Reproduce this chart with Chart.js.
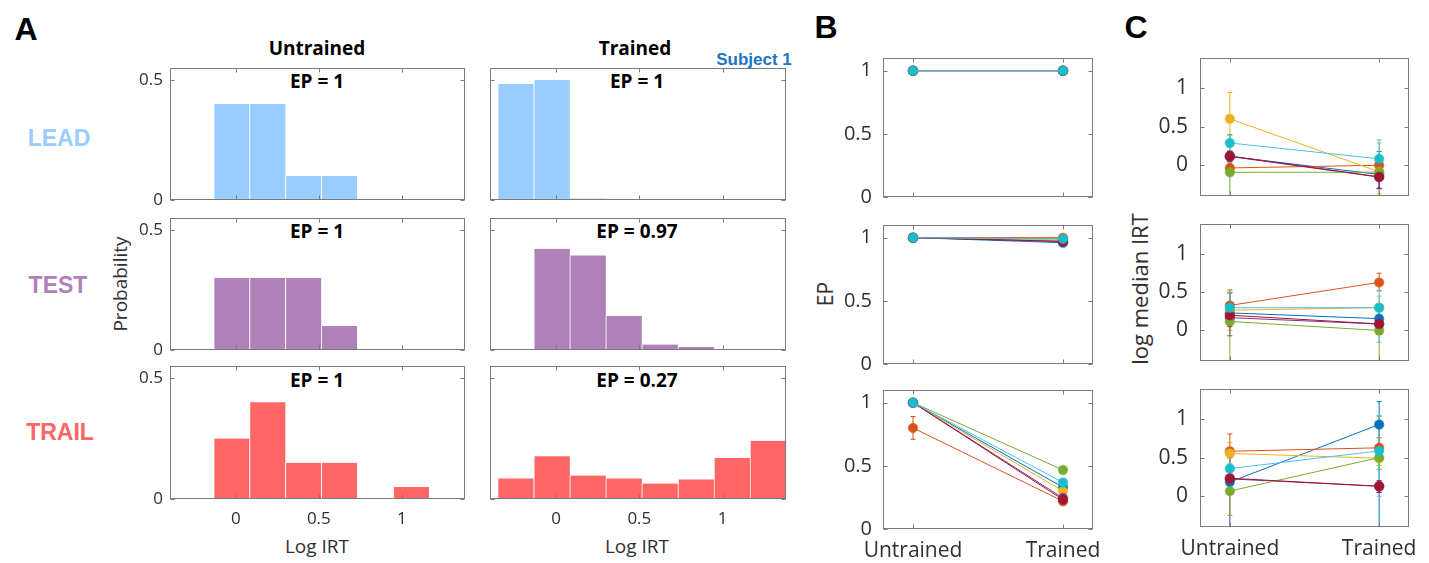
<!DOCTYPE html>
<html lang="en">
<head>
<meta charset="UTF-8" />
<title>Log IRT histograms, EP and median IRT</title>
<style>
  body { margin: 0; background: #fff; width: 1429px; height: 563px; position: relative; overflow: hidden; font-family: "Open Sans", sans-serif; }
  canvas { position: absolute; }
  .txt { position: absolute; white-space: nowrap; line-height: 1; transform: translate(-50%, -50%); }
  .letter { font-family: "Liberation Sans", Arial, sans-serif; font-weight: bold; font-size: 32px; color: #000; }
  .row { font-family: "Liberation Sans", Arial, sans-serif; font-weight: bold; font-size: 23px; }
  .bold { font-weight: bold; font-size: 19px; color: #000; }
  .axt { font-size: 19px; color: #303030; }
  .rot { transform: translate(-50%, -50%) rotate(-90deg); }
</style>
<script src="https://cdn.jsdelivr.net/npm/chart.js"></script>
</head>
<body>
  <div class="txt letter" style="left:26px;top:29px">A</div>
  <div class="txt letter" style="left:826px;top:27px">B</div>
  <div class="txt letter" style="left:1136px;top:27px">C</div>

  <div class="txt bold" style="left:317px;top:48px">Untrained</div>
  <div class="txt bold" style="left:635px;top:48px">Trained</div>
  <div class="txt" style="left:754px;top:59px;font-family:'Liberation Sans',Arial,sans-serif;font-weight:bold;font-size:17px;color:#1A75C2">Subject 1</div>

  <div class="txt row" style="left:59px;top:138px;color:#99CCFF">LEAD</div>
  <div class="txt row" style="left:58px;top:285px;color:#B080B9">TEST</div>
  <div class="txt row" style="left:60px;top:432px;color:#FF6666">TRAIL</div>

  <div class="txt bold" id="ep00" style="left:317px;top:81px"></div>
  <div class="txt bold" id="ep01" style="left:637px;top:81px"></div>
  <div class="txt bold" id="ep10" style="left:317px;top:231px"></div>
  <div class="txt bold" id="ep11" style="left:637px;top:231px"></div>
  <div class="txt bold" id="ep20" style="left:317px;top:380px"></div>
  <div class="txt bold" id="ep21" style="left:637px;top:380px"></div>

  <div class="txt axt rot" style="left:120px;top:284px">Probability</div>
  <div class="txt axt" style="left:317px;top:546px">Log IRT</div>
  <div class="txt axt" style="left:637px;top:546px">Log IRT</div>
  <div class="txt axt rot" style="left:825px;top:294px;font-size:21px">EP</div>
  <div class="txt axt rot" style="left:1139px;top:289px;font-size:22px">log median IRT</div>

  <canvas id="a00"></canvas><canvas id="a01"></canvas>
  <canvas id="a10"></canvas><canvas id="a11"></canvas>
  <canvas id="a20"></canvas><canvas id="a21"></canvas>
  <canvas id="b0"></canvas><canvas id="b1"></canvas><canvas id="b2"></canvas>
  <canvas id="c0"></canvas><canvas id="c1"></canvas><canvas id="c2"></canvas>

  <script>
    // ---- panel A: histogram bins (centres of the 8 log IRT bins) ----
    const binCenters = [-0.242, -0.025, 0.191, 0.407, 0.623, 0.840, 1.056, 1.272];
    const leadUntrained  = [0, 0.40, 0.40, 0.10, 0.10, 0, 0, 0];
    const leadTrained    = [0.483, 0.50, 0.006, 0, 0, 0, 0, 0];
    const testUntrained  = [0, 0.30, 0.30, 0.30, 0.10, 0, 0, 0];
    const testTrained    = [0, 0.422, 0.394, 0.142, 0.023, 0.012, 0, 0];
    const trailUntrained = [0, 0.25, 0.40, 0.15, 0.15, 0, 0.05, 0];
    const trailTrained   = [0.085, 0.177, 0.097, 0.085, 0.064, 0.081, 0.170, 0.241];
    const epLabels = [['EP = 1', 'EP = 1'], ['EP = 1', 'EP = 0.97'], ['EP = 1', 'EP = 0.27']];
    const rowColors = ['#99CCFF', '#B080B9', '#FF6666'];
    const histXTicks = [0, 0.5, 1];
    const histYTicks = [0, 0.5];

    // ---- panels B and C: 7 subjects, untrained (x=1) vs trained (x=2) ----
    const conditions = ['Untrained', 'Trained'];
    const lineColors   = ['#0072BD', '#D95319', '#EDB120', '#7E2F8E', '#77AC30', '#4DBEEE', '#A2142F'];
    const markerColors = ['#0072BD', '#D95319', '#EDB120', '#7E2F8E', '#77AC30', '#17BECF', '#A2142F'];
    const lineYTicks = [0, 0.5, 1];

    const epLeadU  = [1, 1, 1, 1, 1, 1, 1];
    const epLeadT  = [1, 1, 1, 1, 1, 1, 1];
    const epTestU  = [1, 1, 1, 1, 1, 1, 1];
    const epTestT  = [0.96, 1.0, 0.98, 0.97, 0.99, 0.99, 0.97];
    const epTrailU = [1, 0.80, 1, 1, 1, 1, 1];
    const epTrailT = [0.33, 0.22, 0.30, 0.245, 0.467, 0.368, 0.232];
    const epTrailUErr = [null, [0.71, 0.89], null, null, null, null, null];

    const irtLeadU  = [0.115, -0.035, 0.604, 0.115, -0.092, 0.29, 0.12];
    const irtLeadT  = [-0.12, 0.0, -0.085, -0.155, -0.09, 0.083, -0.15];
    const irtLeadUErr = [[0.05, 0.18], [-0.10, 0.03], [0.26, 0.946], [0.05, 0.18], [-0.60, 0.40], [0.19, 0.39], [0.06, 0.18]];
    const irtLeadTErr = [[-0.42, 0.18], [-0.10, 0.10], [-0.37, 0.29], [-0.30, 0.0], [-0.20, 0.02], [-0.31, 0.33], [-0.30, 0.0]];
    const irtTestU  = [0.23, 0.328, 0.265, 0.168, 0.118, 0.298, 0.20];
    const irtTestT  = [0.155, 0.63, 0.30, 0.084, 0.0, 0.298, 0.085];
    const irtTestUErr = [[0.10, 0.36], [0.15, 0.53], [0.0, 0.53], [-0.07, 0.49], [-0.60, 0.50], [0.10, 0.50], [0.05, 0.35]];
    const irtTestTErr = [[0.0, 0.30], [0.52, 0.75], [0.15, 0.45], [-0.05, 0.20], [-0.60, 0.30], [-0.155, 0.52], [-0.05, 0.20]];
    const irtTrailU = [0.184, 0.585, 0.556, 0.226, 0.067, 0.36, 0.234];
    const irtTrailT = [0.933, 0.63, 0.494, 0.13, 0.502, 0.59, 0.13];
    const irtTrailUErr = [[0.10, 0.28], [0.38, 0.81], [0.42, 0.70], [-0.60, 0.50], [-0.25, 0.40], [0.20, 0.52], [0.15, 0.32]];
    const irtTrailTErr = [[-0.60, 1.23], [0.50, 0.76], [0.40, 0.60], [0.05, 0.20], [0.35, 1.04], [0.0, 1.05], [0.05, 0.20]];

    // plot boxes [left, top, right, bottom] in page pixels
    const colA = [[170, 465], [490, 786]];
    const rowsA = [[68, 200], [218, 350], [366, 499]];
    const boxB = [883, 1093], rowsB = [[55, 197], [222, 364], [387, 529]];
    const boxC = [1200, 1409], rowsC = [[53, 196], [219, 361], [384, 527]];

    const ML = 80, MR = 60, MT = 20, MB = 50;
    const tickColor = '#303030';

    const boxPlugin = {
      id: 'box',
      afterDraw(chart) {
        const { ctx, chartArea: a, scales } = chart;
        const l = Math.round(a.left) + 0.5, t = Math.round(a.top) + 0.5;
        const r = Math.round(a.right) - 0.5, b = Math.round(a.bottom) - 0.5;
        ctx.save();
        ctx.strokeStyle = '#7a7a7a';
        ctx.lineWidth = 1;
        ctx.strokeRect(l, t, r - l, b - t);
        ctx.beginPath();
        scales.x.ticks.forEach(tk => {
          const px = Math.round(scales.x.getPixelForValue(tk.value)) + 0.5;
          ctx.moveTo(px, b); ctx.lineTo(px, b - 4);
          ctx.moveTo(px, t); ctx.lineTo(px, t + 4);
        });
        scales.y.ticks.forEach(tk => {
          const py = Math.round(scales.y.getPixelForValue(tk.value)) + 0.5;
          ctx.moveTo(l, py); ctx.lineTo(l + 4, py);
          ctx.moveTo(r, py); ctx.lineTo(r - 4, py);
        });
        ctx.stroke();
        ctx.restore();
      }
    };

    const errorBarPlugin = {
      id: 'errorBars',
      beforeDatasetsDraw(chart) {
        const { ctx, chartArea: a, scales: { x, y } } = chart;
        ctx.save();
        ctx.beginPath();
        ctx.rect(a.left, a.top, a.right - a.left, a.bottom - a.top);
        ctx.clip();
        chart.data.datasets.forEach(ds => {
          if (!ds.errorBars) return;
          ctx.strokeStyle = ds.borderColor;
          ctx.lineWidth = 1;
          ds.data.forEach((p, i) => {
            const e = ds.errorBars[i];
            if (!e) return;
            const px = x.getPixelForValue(p.x);
            const y0 = y.getPixelForValue(e[0]), y1 = y.getPixelForValue(e[1]);
            ctx.beginPath();
            ctx.moveTo(px, y0); ctx.lineTo(px, y1);
            ctx.moveTo(px - 2.5, y0); ctx.lineTo(px + 2.5, y0);
            ctx.moveTo(px - 2.5, y1); ctx.lineTo(px + 2.5, y1);
            ctx.stroke();
          });
        });
        ctx.restore();
      }
    };

    function place(id, xr, yr) {
      const c = document.getElementById(id);
      c.width = xr[1] - xr[0] + ML + MR;
      c.height = yr[1] - yr[0] + MT + MB;
      c.style.left = (xr[0] - ML) + 'px';
      c.style.top = (yr[0] - MT) + 'px';
      return c;
    }

    function baseOptions(xs, ys) {
      return {
        responsive: false,
        animation: false,
        events: [],
        layout: { padding: { left: 0, right: MR, top: MT, bottom: 0 } },
        plugins: { legend: { display: false }, tooltip: { enabled: false } },
        scales: { x: xs, y: ys }
      };
    }

    function histogram(id, xr, yr, values, color, showX, showY) {
      const x = {
        type: 'linear', min: -0.396, max: 1.38, offset: false,
        grid: { display: false, drawTicks: false }, border: { display: false },
        afterBuildTicks: s => { s.ticks = histXTicks.map(v => ({ value: v })); },
        afterFit: s => { s.height = MB; },
        ticks: { display: showX, padding: 10, color: tickColor, font: { family: 'Open Sans', size: 17 }, callback: v => String(v) }
      };
      const y = {
        type: 'linear', min: 0, max: 0.55,
        grid: { display: false, drawTicks: false }, border: { display: false },
        afterBuildTicks: s => { s.ticks = histYTicks.map(v => ({ value: v })); },
        afterFit: s => { s.width = ML; },
        ticks: { display: showY, padding: 7, color: tickColor, font: { family: 'Open Sans', size: 17 }, callback: v => String(v) }
      };
      new Chart(place(id, xr, yr), {
        type: 'bar',
        data: {
          datasets: [{
            data: binCenters.map((c, i) => ({ x: c, y: values[i] })),
            backgroundColor: color,
            borderColor: 'rgba(255,255,255,0.85)',
            borderWidth: { left: 1, right: 0, top: 0, bottom: 0 },
            borderSkipped: false,
            barPercentage: 1,
            categoryPercentage: 1
          }]
        },
        options: baseOptions(x, y),
        plugins: [boxPlugin]
      });
    }

    function pairs(id, xr, yr, untrained, trained, errU, errT, yMin, yMax, showX, tickSize, yPad) {
      const x = {
        type: 'linear', min: 0.8, max: 2.2, offset: false,
        grid: { display: false, drawTicks: false }, border: { display: false },
        afterBuildTicks: s => { s.ticks = [1, 2].map(v => ({ value: v })); },
        afterFit: s => { s.height = MB; },
        ticks: { display: showX, padding: 9, color: tickColor, font: { family: 'Open Sans', size: 21 }, callback: v => conditions[v - 1] }
      };
      const y = {
        type: 'linear', min: yMin, max: yMax,
        grid: { display: false, drawTicks: false }, border: { display: false },
        afterBuildTicks: s => { s.ticks = lineYTicks.map(v => ({ value: v })); },
        afterFit: s => { s.width = ML; },
        ticks: { padding: yPad, color: tickColor, font: { family: 'Open Sans', size: tickSize }, callback: v => String(v) }
      };
      const datasets = lineColors.map((col, i) => ({
        data: [{ x: 1, y: untrained[i] }, { x: 2, y: trained[i] }],
        borderColor: col,
        borderWidth: 1,
        pointRadius: 4.5,
        pointBorderWidth: 1.5,
        pointBackgroundColor: markerColors[i],
        pointBorderColor: markerColors[i] + '99',
        errorBars: [errU ? errU[i] : null, errT ? errT[i] : null],
        order: i === 5 ? -1 : 6 - i
      }));
      new Chart(place(id, xr, yr), {
        type: 'line',
        data: { datasets },
        options: baseOptions(x, y),
        plugins: [errorBarPlugin, boxPlugin]
      });
    }

    const histData = [[leadUntrained, leadTrained], [testUntrained, testTrained], [trailUntrained, trailTrained]];
    histData.forEach((row, r) => {
      row.forEach((vals, c) => {
        histogram('a' + r + c, colA[c], rowsA[r], vals, rowColors[r], r === 2, c === 0);
        document.getElementById('ep' + r + c).textContent = epLabels[r][c];
      });
    });

    pairs('b0', boxB, rowsB[0], epLeadU, epLeadT, null, null, 0, 1.1, false, 20, 11);
    pairs('b1', boxB, rowsB[1], epTestU, epTestT, null, null, 0, 1.1, false, 20, 11);
    pairs('b2', boxB, rowsB[2], epTrailU, epTrailT, epTrailUErr, null, 0, 1.1, true, 20, 11);

    pairs('c0', boxC, rowsC[0], irtLeadU, irtLeadT, irtLeadUErr, irtLeadTErr, -0.4, 1.4, false, 21, 12);
    pairs('c1', boxC, rowsC[1], irtTestU, irtTestT, irtTestUErr, irtTestTErr, -0.4, 1.4, false, 21, 12);
    pairs('c2', boxC, rowsC[2], irtTrailU, irtTrailT, irtTrailUErr, irtTrailTErr, -0.4, 1.4, true, 21, 12);
  </script>
</body>
</html>
